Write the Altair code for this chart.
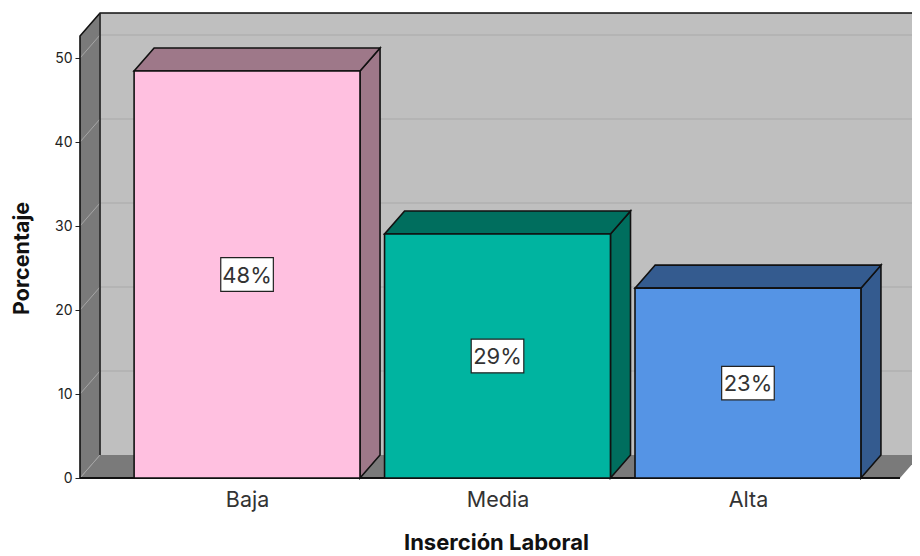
import altair as alt
import pandas as pd

categories = ["Baja", "Media", "Alta"]
values = [48.45, 29.05, 22.6]
labels = ["48%", "29%", "23%"]
front_colors = ["#ffc0e0", "#00b4a0", "#5594e5"]
side_colors = ["#9e7889", "#006e5e", "#345b8f"]
y_ticks = [0, 10, 20, 30, 40, 50]

HALF = 0.451
DX = 0.08
DY = 2.74
X0, X_VIS, X1 = -0.667, 2.655, 2.687
Y1 = 55.36
FLOOR_END = X1 - DX
LW = 1.6
FONT = "Inter"

x_scale = alt.Scale(domain=[X0, X_VIS], nice=False, zero=False)
y_scale = alt.Scale(domain=[0, Y1], nice=False, zero=True)
x_axis = alt.Axis(values=[0, 1, 2], labelExpr="['Baja','Media','Alta'][datum.value]",
                  domain=False, ticks=False, grid=False, labelFont=FONT, labelFontSize=21.5,
                  labelColor="#333333", labelPadding=11,
                  title="Inserción Laboral", titleFont=FONT, titleFontSize=22, titleFontWeight="bold",
                  titleColor="#111111", titlePadding=22)
y_axis = alt.Axis(values=y_ticks, domain=False, ticks=True, tickSize=5, tickColor="#222222", grid=False,
                  labelFont=FONT, labelFontSize=14, labelColor="#222222", labelPadding=3,
                  title="Porcentaje", titleFont=FONT, titleFontSize=21.5, titleFontWeight="bold",
                  titleColor="#111111", titleX=-58, titleY=245, titleBaseline="middle", titleAlign="center")
xs = alt.X("x:Q", scale=x_scale, axis=x_axis)
ys = alt.Y("y:Q", scale=y_scale, axis=y_axis)

bars = pd.DataFrame({"i": range(3), "cat": categories, "v": values, "lab": labels,
                     "front": front_colors, "side": side_colors})
bars["x"] = bars["i"] - HALF
bars["x2"] = bars["i"] + HALF
bars["y"] = bars["v"]
bars["y2"] = 0.0

# walls
wall = alt.Chart(pd.DataFrame({"x": [X0 + DX], "x2": [X1], "y": [DY], "y2": [Y1]})).mark_rect(
    color="#bfbfbf").encode(x=xs, x2="x2:Q", y=ys, y2="y2:Q")

left_wall = alt.Chart(pd.DataFrame({"x": [X0, X0 + DX], "y": [0, DY], "y2": [Y1 - DY, Y1]})).mark_area(
    color="#7a7a7a").encode(x=xs, y=ys, y2="y2:Q")

floor = alt.Chart(pd.DataFrame({"y": [0, DY], "x": [X0, X0 + DX], "x2": [FLOOR_END, X1]})).mark_area(
    color="#7a7a7a", orient="horizontal").encode(x=xs, x2="x2:Q", y=ys)

# grid
grid_rows, slant_rows = [], []
for t in y_ticks:
    grid_rows.append({"t": t, "x": X0 + DX, "x2": X1, "y": t + DY})
    slant_rows += [{"t": t, "x": X0, "y": t}, {"t": t, "x": X0 + DX, "y": t + DY}]
grid = alt.Chart(pd.DataFrame(grid_rows[1:])).mark_rule(color="#b1b1b1", strokeWidth=1.4).encode(
    x=xs, x2="x2:Q", y=ys)
slants = alt.Chart(pd.DataFrame(slant_rows)).mark_line(color="#a6a6a6", strokeWidth=1).encode(
    x=xs, y=ys, detail="t:N")

# frame lines
frame = alt.Chart(pd.DataFrame({"x": [X0, X0, X0 + DX, X1], "y": [0, Y1 - DY, Y1, Y1], "o": [0, 1, 2, 3]})).mark_line(
    color="#111111", strokeWidth=LW).encode(x=xs, y=ys, order="o:O")
inner = alt.Chart(pd.DataFrame({"x": [X0 + DX, X0 + DX], "y": [DY, Y1], "o": [0, 1]})).mark_line(
    color="#222222", strokeWidth=LW).encode(x=xs, y=ys, order="o:O")
base = alt.Chart(pd.DataFrame({"x": [X0], "x2": [FLOOR_END], "y": [0]})).mark_rule(
    color="#111111", strokeWidth=2).encode(x=xs, x2="x2:Q", y=ys)

# bars
side_rows, top_rows = [], []
for i, v in enumerate(values):
    xr = i + HALF
    side_rows += [{"i": i, "x": xr, "y": 0, "y2": v, "c": side_colors[i]},
                  {"i": i, "x": xr + DX, "y": DY, "y2": v + DY, "c": side_colors[i]}]
    top_rows += [{"i": i, "y": v, "x": i - HALF, "x2": xr, "c": side_colors[i]},
                 {"i": i, "y": v + DY, "x": i - HALF + DX, "x2": xr + DX, "c": side_colors[i]}]

sides = alt.Chart(pd.DataFrame(side_rows)).mark_area(stroke="#111111", strokeWidth=LW).encode(
    x=xs, y=ys, y2="y2:Q", fill=alt.Fill("c:N", scale=None), detail="i:N")
tops = alt.Chart(pd.DataFrame(top_rows)).mark_area(orient="horizontal", stroke="#111111", strokeWidth=LW).encode(
    x=xs, x2="x2:Q", y=ys, fill=alt.Fill("c:N", scale=None), detail="i:N")
fronts = alt.Chart(bars).mark_rect(stroke="#111111", strokeWidth=LW).encode(
    x=xs, x2="x2:Q", y=ys, y2="y2:Q", fill=alt.Fill("front:N", scale=None))

# value labels
lab = bars.copy()
lab["xc"] = lab["i"]
lab["yc"] = lab["v"] / 2
lab["x"] = lab["xc"] - 0.105
lab["x2"] = lab["xc"] + 0.105
lab["y"] = lab["yc"] - 2.0
lab["y2"] = lab["yc"] + 2.0
boxes = alt.Chart(lab).mark_rect(fill="white", stroke="#222222", strokeWidth=1.2).encode(
    x=xs, x2="x2:Q", y=ys, y2="y2:Q")
texts = alt.Chart(lab).mark_text(font=FONT, fontSize=22, color="#333333", baseline="middle", align="center", dy=1).encode(
    x=alt.X("xc:Q", scale=x_scale, axis=x_axis),
    y=alt.Y("yc:Q", scale=y_scale, axis=y_axis),
    text="lab:N")

chart = alt.layer(wall, left_wall, floor, grid, slants, frame, inner, base,
                  sides, tops, fronts, boxes, texts).properties(
    width=832, height=465,
    padding={"left": 72, "top": 5, "right": 0, "bottom": 78},
    autosize=alt.AutoSizeParams(type="none"),
).configure_view(stroke=None)

chart.save("out.html", embed_options={"renderer": "svg", "actions": False})
